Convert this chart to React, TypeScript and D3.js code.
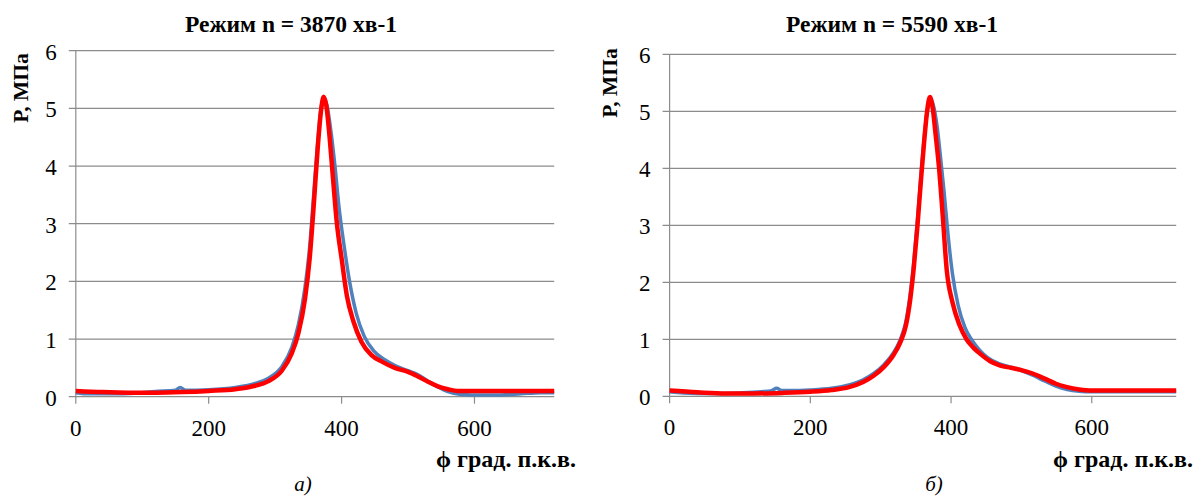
import * as d3 from 'd3';

// n = 3870 хв-1 : model (red) and measured (blue)
const degA_model = [0, 40, 80, 120, 160, 200, 240, 270, 290, 310, 325, 335, 345, 352, 358, 364, 369, 373, 377, 382, 387, 393, 400, 408, 418, 430, 445, 462, 480, 500, 515, 530, 545, 560, 575, 600, 650, 720];
const valA_model = [0.10, 0.08, 0.07, 0.07, 0.08, 0.10, 0.13, 0.19, 0.27, 0.45, 0.75, 1.1, 1.7, 2.4, 3.3, 4.3, 4.95, 5.2, 5.05, 4.5, 3.8, 3.0, 2.4, 1.75, 1.3, 0.95, 0.72, 0.6, 0.5, 0.43, 0.35, 0.26, 0.18, 0.13, 0.10, 0.10, 0.10, 0.10];
const degA_meas = [0, 20, 50, 90, 120, 150, 157, 165, 200, 240, 270, 290, 310, 325, 335, 345, 352, 358, 364, 369, 373, 378, 384, 390, 396, 404, 412, 422, 434, 448, 465, 482, 500, 515, 530, 545, 560, 580, 610, 640, 670, 700, 720];
const valA_meas = [0.07, 0.05, 0.05, 0.06, 0.09, 0.11, 0.16, 0.11, 0.12, 0.16, 0.23, 0.32, 0.52, 0.85, 1.25, 1.9, 2.6, 3.5, 4.4, 5.0, 5.18, 5.05, 4.6, 4.0, 3.3, 2.6, 2.0, 1.45, 1.05, 0.8, 0.64, 0.53, 0.45, 0.38, 0.27, 0.17, 0.09, 0.04, 0.03, 0.03, 0.05, 0.07, 0.07];

// n = 5590 хв-1
const degB_model = [0, 40, 80, 120, 160, 200, 230, 255, 275, 290, 305, 318, 328, 336, 342, 347, 352, 357, 362, 366, 370, 374, 378, 383, 388, 394, 402, 412, 422, 432, 442, 455, 470, 485, 500, 516, 533, 549, 565, 582, 600, 650, 720];
const valB_model = [0.10, 0.07, 0.05, 0.05, 0.06, 0.08, 0.11, 0.16, 0.25, 0.36, 0.52, 0.72, 0.95, 1.25, 1.7, 2.25, 2.95, 3.75, 4.5, 5.0, 5.25, 5.05, 4.6, 4.0, 3.2, 2.2, 1.65, 1.25, 1.0, 0.85, 0.74, 0.62, 0.54, 0.5, 0.46, 0.4, 0.31, 0.22, 0.16, 0.12, 0.10, 0.10, 0.10];
const degB_meas = [0, 20, 60, 100, 130, 145, 152, 160, 170, 200, 230, 255, 275, 290, 305, 318, 328, 336, 342, 347, 352, 357, 362, 366, 370, 375, 380, 385, 390, 396, 402, 410, 420, 430, 440, 452, 467, 482, 500, 516, 533, 549, 565, 582, 600, 640, 680, 720];
const valB_meas = [0.08, 0.06, 0.05, 0.06, 0.08, 0.1, 0.14, 0.1, 0.1, 0.11, 0.14, 0.2, 0.29, 0.4, 0.56, 0.76, 1.0, 1.32, 1.8, 2.35, 3.05, 3.85, 4.55, 5.0, 5.22, 5.1, 4.75, 4.2, 3.6, 2.8, 2.15, 1.6, 1.2, 0.98, 0.82, 0.68, 0.58, 0.52, 0.45, 0.37, 0.27, 0.18, 0.12, 0.09, 0.08, 0.08, 0.08, 0.08];

const xTicks = [0, 200, 400, 600];
const yTicks = [0, 1, 2, 3, 4, 5, 6];

const FONT = "'Liberation Serif', 'Times New Roman', serif";

type PanelProps = {
  title: string;
  caption: string;
  x0: number;
  x1: number;
  y0: number;
  y1: number;
  titleX: number;
  yLabelX: number;
  yLabelY: number;
  xLabelRight: number;
  captionX: number;
  model: [number[], number[]];
  meas: [number[], number[]];
};

function Panel(p: PanelProps) {
  const x = d3.scaleLinear().domain([0, 720]).range([p.x0, p.x1]);
  const y = d3.scaleLinear().domain([0, 6]).range([p.y0, p.y1]);
  const line = d3
    .line<[number, number]>()
    .x((d) => x(d[0]))
    .y((d) => y(d[1]))
    .curve(d3.curveMonotoneX);
  const modelPts = p.model[0].map((d, i) => [d, p.model[1][i]] as [number, number]);
  const measPts = p.meas[0].map((d, i) => [d, p.meas[1][i]] as [number, number]);
  const txt = { fontFamily: FONT, fill: '#000' };

  return (
    <g>
      <text x={p.titleX} y={32} textAnchor="middle" fontWeight="bold" fontSize={23.5} style={txt}>
        {p.title}
      </text>
      {yTicks.map((t) => (
        <g key={t}>
          <line x1={p.x0 - 7} x2={p.x1} y1={y(t)} y2={y(t)} stroke="#8c8c8c" strokeWidth={1.2} />
          <text x={p.x0 - 19} y={y(t) + 9} textAnchor="end" fontSize={23} style={txt}>
            {t}
          </text>
        </g>
      ))}
      <line x1={p.x0} x2={p.x0} y1={y(6)} y2={y(0)} stroke="#8c8c8c" strokeWidth={1.2} />
      {xTicks.map((t) => (
        <g key={t}>
          <line x1={x(t)} x2={x(t)} y1={y(0)} y2={y(0) + 7} stroke="#8c8c8c" strokeWidth={1.2} />
          <text x={x(t)} y={y(0) + 39} textAnchor="middle" fontSize={23} style={txt}>
            {t}
          </text>
        </g>
      ))}
      <path d={line(measPts) || ''} fill="none" stroke="#4f81bd" strokeWidth={3.5} />
      <path d={line(modelPts) || ''} fill="none" stroke="#ff0000" strokeWidth={4.5} strokeLinejoin="round" />
      <text
        transform={`translate(${p.yLabelX},${p.yLabelY}) rotate(-90)`}
        textAnchor="middle"
        fontWeight="bold"
        fontSize={21.5}
        style={txt}
      >
        P, МПа
      </text>
      <text x={p.xLabelRight} y={467} textAnchor="end" fontWeight="bold" fontSize={24} style={txt}>
        ϕ град. п.к.в.
      </text>
      <text x={p.captionX} y={491} textAnchor="middle" fontStyle="italic" fontSize={21} style={txt}>
        {p.caption}
      </text>
    </g>
  );
}

export default function App() {
  return (
    <svg width={1196} height={497} style={{ position: 'absolute', left: 0, top: 0, background: '#fff' }}>
      <Panel
        title="Режим n = 3870 хв-1"
        caption="а)"
        x0={75.8}
        x1={554.2}
        y0={396.7}
        y1={50.7}
        titleX={291}
        yLabelX={28}
        yLabelY={88}
        xLabelRight={576}
        captionX={303}
        model={[degA_model, valA_model]}
        meas={[degA_meas, valA_meas]}
      />
      <Panel
        title="Режим n = 5590 хв-1"
        caption="б)"
        x0={669.6}
        x1={1176.2}
        y0={396.3}
        y1={54.3}
        titleX={892}
        yLabelX={617}
        yLabelY={83}
        xLabelRight={1193}
        captionX={934}
        model={[degB_model, valB_model]}
        meas={[degB_meas, valB_meas]}
      />
    </svg>
  );
}
